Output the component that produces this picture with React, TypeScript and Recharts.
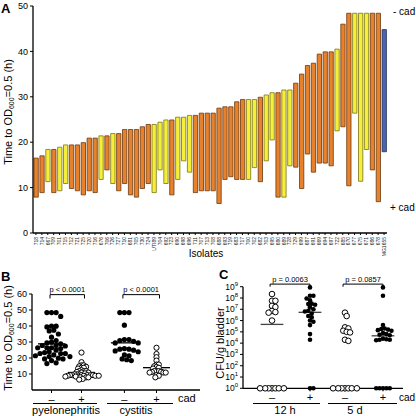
import React from 'react';
import {
  BarChart,
  Bar,
  Cell,
  XAxis,
  YAxis,
  ScatterChart,
  Scatter,
  ReferenceLine,
} from 'recharts';

const FONT = '"Liberation Sans", Arial, sans-serif';

// Panel A: growth time per isolate, with (+cad) and without (-cad) cadaverine
const isolates = [
  '718', '714', '667', '709', '701', '715', '712', '721', '725', '720',
  '716', '676', '706', '726', '727', '710', '681', '705', '730', '724',
  'UTI89', '704', '692', '723', '690', '698', '696', '711', '707', '713',
  '708', '688', '693', '719', '683', '717', '700', '702', '682', '703',
  '695', '680', '689', '728', '729', '699', '687', '691', '669', '694',
  '697', '722', '685', '670', '677', '675', '671', '686', '678', 'MG1655',
];
// P = pyelonephritis, C = cystitis, K = K-12 lab strain
const source = [
  'P', 'P', 'C', 'P', 'C', 'C', 'P', 'P', 'P', 'P',
  'P', 'C', 'P', 'C', 'P', 'P', 'P', 'P', 'P', 'P',
  'C', 'C', 'C', 'P', 'C', 'C', 'C', 'P', 'P', 'P',
  'P', 'P', 'P', 'P', 'P', 'P', 'C', 'C', 'P', 'C',
  'C', 'P', 'C', 'C', 'P', 'P', 'P', 'P', 'P', 'P',
  'P', 'C', 'P', 'P', 'C', 'C', 'C', 'P', 'P', 'K',
];
const hoursNoCad = [
  16.5, 17.0, 18.4, 18.4, 18.9, 19.4, 19.4, 19.4, 19.9, 20.9,
  20.9, 21.4, 21.4, 21.9, 21.9, 22.8, 22.8, 22.8, 23.4, 23.9,
  23.9, 24.4, 24.9, 24.9, 25.5, 25.5, 25.9, 25.9, 26.4, 26.4,
  26.4, 27.5, 27.8, 27.8, 28.9, 29.4, 29.4, 29.4, 29.9, 30.4,
  30.9, 30.9, 31.5, 31.5, 33.0, 35.0, 36.9, 37.4, 39.4, 39.9,
  39.9, 40.5, 46.0, 48.4, 48.4, 48.4, 48.4, 48.4, 48.4, 44.8,
];
const hoursCad = [
  7.9, 8.9, 11.3, 8.9, 9.3, 10.9, 9.8, 9.3, 8.4, 9.3,
  8.9, 11.8, 13.9, 10.9, 9.3, 10.9, 8.4, 7.9, 9.8, 10.9,
  8.9, 13.9, 10.9, 8.4, 11.8, 15.9, 13.4, 8.9, 9.3, 9.3,
  9.3, 6.5, 11.8, 12.4, 11.8, 11.8, 11.8, 14.4, 11.3, 15.9,
  20.5, 7.9, 7.9, 14.8, 14.5, 9.8, 17.4, 13.4, 15.4, 15.4,
  14.8, 22.5, 23.4, 10.4, 26.4, 11.4, 18.4, 13.9, 6.9, 17.9,
];
const hourTicks = [0, 10, 20, 30, 40, 50];

const SOURCE_FILL: Record<string, string> = { P: '#E8812C', C: '#F5EF3C', K: '#4A66AC' };
const SOURCE_STROKE: Record<string, string> = { P: '#6B3A10', C: '#7A7418', K: '#1E2C5A' };

// Panel B: same data grouped by source
const bGroupX = [1, 2, 3.43, 4.5];
const bTickLabels = ['–', '+', '–', '+'];
const bTicksY = [10, 20, 30, 40, 50, 60];
const bPValues = ['p < 0.0001', 'p < 0.0001'];

// Panel C: log10 CFU/g bladder
const c12hNoCad = [8.35, 7.75, 7.75, 7.3, 7.2, 6.85, 6.75, 6.7, 6.0, 0, 0, 0, 0, 0, 0, 0];
const c12hCad = [8.94, 8.2, 8.2, 7.95, 7.8, 7.5, 7.46, 7.4, 7.17, 7.0, 6.87, 6.8, 6.63, 6.4, 6.28, 6.0, 5.9, 5.6, 4.8, 4.3, 0, 0];
const c5dNoCad = [6.7, 6.4, 5.4, 5.3, 5.1, 5.0, 4.95, 4.3, 4.2, 0, 0, 0, 0, 0, 0, 0];
const c5dCad = [8.94, 8.2, 5.6, 5.3, 5.25, 5.2, 5.15, 5.1, 4.9, 4.8, 4.75, 4.7, 4.4, 4.35, 4.3, 4.3, 4.25, 0, 0, 0, 0, 0];
const cGroupX = [1, 2, 2.92, 3.92];
const cTickLabels = ['–', '+', '–', '+'];
const cLines = [5.66, 6.73, 0, 4.65];
const cDecades = [0, 1, 2, 3, 4, 5, 6, 7, 8, 9];
const cPValues = ['p = 0.0063', 'p = 0.0857'];

// simple beeswarm: pushes points sideways (in pixels) until they stop overlapping
function swarm(values: number[], cx: number, pxX: number, pxY: number, minDist: number) {
  const placed: { off: number; py: number }[] = [];
  const step = minDist / 2;
  const sorted = [...values].sort((a, b) => b - a);
  return sorted.map((v) => {
    const py = v * pxY;
    let off = 0;
    for (let k = 0; k < 80; k++) {
      const cands = k === 0 ? [0] : [k * step, -k * step];
      const ok = cands.find((c) =>
        placed.every((p) => (p.off - c) ** 2 + (p.py - py) ** 2 >= minDist * minDist)
      );
      if (ok !== undefined) {
        off = ok;
        break;
      }
    }
    placed.push({ off, py });
    return { x: cx + off / pxX, y: v };
  });
}

const mean = (a: number[]) => a.reduce((s, v) => s + v, 0) / a.length;

function IsolateTick({ x, y, payload }: any) {
  return (
    <text
      x={x}
      y={y}
      transform={`rotate(-90 ${x} ${y})`}
      textAnchor="end"
      dy={1.8}
      fontSize={5}
      fill="#222"
    >
      {payload.value}
    </text>
  );
}

function DecadeTick({ x, y, payload }: any) {
  return (
    <text x={x} y={y} dy={3} textAnchor="end" fontSize={8.5} fill="#000">
      10<tspan dy={-4} fontSize={6}>{payload.value}</tspan>
    </text>
  );
}

const filledDot = (r: number) => (p: any) => <circle cx={p.cx} cy={p.cy} r={r} fill="#000" />;
const openDot = (r: number) => (p: any) => (
  <circle cx={p.cx} cy={p.cy} r={r} fill="#fff" stroke="#000" strokeWidth={1} />
);

const axisStyle = { stroke: '#000', strokeWidth: 1.3 };

export default function App() {
  const barData = isolates.map((name, i) => ({
    name,
    range: [hoursCad[i], hoursNoCad[i]],
    src: source[i],
  }));

  // panel B groups
  const pick = (arr: number[], s: string) => arr.filter((_, i) => source[i] === s);
  const bGroups = [
    pick(hoursNoCad, 'P'),
    pick(hoursCad, 'P'),
    pick(hoursNoCad, 'C'),
    pick(hoursCad, 'C'),
  ];
  const bPts = bGroups.map((g, i) => swarm(g, bGroupX[i], 30, 1.595, i % 2 === 0 ? 4.6 : 2.3));
  const bMeans = bGroups.map(mean);

  const cGroups = [c12hNoCad, c12hCad, c5dNoCad, c5dCad];
  const cPts = cGroups.map((g, i) => swarm(g, cGroupX[i], 38, 11.29, 3.4));

  return (
    <div
      style={{
        position: 'fixed',
        left: 0,
        top: 0,
        width: 416,
        height: 416,
        background: '#fff',
        fontFamily: FONT,
        overflow: 'hidden',
      }}
    >
      {/* Panel A */}
      <div style={{ position: 'absolute', left: 0, top: 0 }}>
        <BarChart
          width={416}
          height={262}
          data={barData}
          margin={{ top: 6, right: 29, left: 0, bottom: 0 }}
          barSize={4.3}
        >
          <XAxis
            dataKey="name"
            interval={0}
            height={29}
            tick={IsolateTick}
            tickSize={2}
            axisLine={axisStyle}
            tickLine={{ stroke: '#000' }}
          />
          <YAxis
            type="number"
            domain={[0, 50]}
            ticks={hourTicks}
            interval={0}
            width={33}
            tickSize={3}
            tick={{ fontSize: 9, fill: '#000' }}
            axisLine={axisStyle}
            tickLine={{ stroke: '#000' }}
          />
          <Bar dataKey="range" isAnimationActive={false} strokeWidth={0.8}>
            {barData.map((d, i) => (
              <Cell key={i} fill={SOURCE_FILL[d.src]} stroke={SOURCE_STROKE[d.src]} />
            ))}
          </Bar>
        </BarChart>
      </div>

      {/* Panel B */}
      <div style={{ position: 'absolute', left: 0, top: 270 }}>
        <ScatterChart width={206} height={146} margin={{ top: 24, right: 6, left: 0, bottom: 0 }}>
          <XAxis
            type="number"
            dataKey="x"
            domain={[0.35, 5.95]}
            ticks={bGroupX}
            interval={0}
            height={26}
            tickSize={3}
            tickFormatter={(v: number) => bTickLabels[bGroupX.indexOf(v)]}
            tick={{ fontSize: 11, fill: '#000' }}
            axisLine={axisStyle}
            tickLine={{ stroke: '#000' }}
          />
          <YAxis
            type="number"
            dataKey="y"
            domain={[0, 60]}
            ticks={bTicksY}
            interval={0}
            width={32}
            tickSize={3}
            tick={{ fontSize: 9, fill: '#000' }}
            axisLine={axisStyle}
            tickLine={{ stroke: '#000' }}
          />
          {bPts.map((pts, i) => (
            <Scatter
              key={i}
              data={pts}
              isAnimationActive={false}
              shape={i % 2 === 0 ? filledDot(2.6) : openDot(2.6)}
            />
          ))}
          {bMeans.map((m, i) => (
            <ReferenceLine
              key={'m' + i}
              segment={[{ x: bGroupX[i] - 0.45, y: m }, { x: bGroupX[i] + 0.45, y: m }]}
              stroke="#000"
              strokeWidth={1.3}
              ifOverflow="visible"
            />
          ))}
          {bPValues.map((p, k) => {
            const a = bGroupX[2 * k] - 0.05;
            const b = bGroupX[2 * k + 1] + 0.1;
            return (
              <React.Fragment key={'p' + k}>
                <ReferenceLine
                  segment={[{ x: a, y: 59.6 }, { x: b, y: 59.6 }]}
                  stroke="#000"
                  ifOverflow="visible"
                  label={{ value: p, position: 'top', fontSize: 7.5, fill: '#000', offset: 3 }}
                />
                <ReferenceLine segment={[{ x: a, y: 59.6 }, { x: a, y: 57.2 }]} stroke="#000" ifOverflow="visible" />
                <ReferenceLine segment={[{ x: b, y: 59.6 }, { x: b, y: 57.2 }]} stroke="#000" ifOverflow="visible" />
              </React.Fragment>
            );
          })}
        </ScatterChart>
      </div>

      {/* Panel C */}
      <div style={{ position: 'absolute', left: 210, top: 270 }}>
        <ScatterChart width={206} height={146} margin={{ top: 16.7, right: 13, left: 0, bottom: 0 }}>
          <XAxis
            type="number"
            dataKey="x"
            domain={[0.237, 4.447]}
            ticks={cGroupX}
            interval={0}
            height={27.7}
            tickSize={3}
            tickFormatter={(v: number) => cTickLabels[cGroupX.indexOf(v)]}
            tick={{ fontSize: 11, fill: '#000' }}
            axisLine={axisStyle}
            tickLine={{ stroke: '#000' }}
          />
          <YAxis
            type="number"
            dataKey="y"
            domain={[0, 9]}
            ticks={cDecades}
            interval={0}
            width={33}
            tickSize={3}
            tick={DecadeTick}
            axisLine={axisStyle}
            tickLine={{ stroke: '#000' }}
          />
          {cLines.map((m, i) => (
            <ReferenceLine
              key={'m' + i}
              segment={[{ x: cGroupX[i] - 0.3, y: m }, { x: cGroupX[i] + 0.3, y: m }]}
              stroke="#444"
              strokeWidth={1.3}
              ifOverflow="visible"
            />
          ))}
          {cPts.map((pts, i) => (
            <Scatter
              key={i}
              data={pts}
              isAnimationActive={false}
              shape={i % 2 === 0 ? openDot(2.8) : filledDot(2.3)}
            />
          ))}
          {cPValues.map((p, k) => {
            const a = cGroupX[2 * k] - 0.05;
            const b = cGroupX[2 * k + 1];
            return (
              <React.Fragment key={'p' + k}>
                <ReferenceLine
                  segment={[{ x: a, y: 9.23 }, { x: b, y: 9.23 }]}
                  stroke="#000"
                  ifOverflow="visible"
                  label={{ value: p, position: 'top', fontSize: 7.5, fill: '#000', offset: 2 }}
                />
                <ReferenceLine segment={[{ x: a, y: 9.23 }, { x: a, y: 9.0 }]} stroke="#000" ifOverflow="visible" />
                <ReferenceLine segment={[{ x: b, y: 9.23 }, { x: b, y: 9.0 }]} stroke="#000" ifOverflow="visible" />
              </React.Fragment>
            );
          })}
        </ScatterChart>
      </div>

      {/* titles, axis labels, group labels */}
      <svg
        width={416}
        height={416}
        style={{ position: 'absolute', left: 0, top: 0, pointerEvents: 'none' }}
        fontFamily={FONT}
      >
        <text x={1} y={13} fontSize={13} fontWeight="bold">A</text>
        <text x={1} y={281} fontSize={13} fontWeight="bold">B</text>
        <text x={219} y={279} fontSize={13} fontWeight="bold">C</text>

        <text x={12} y={112} transform="rotate(-90 12 112)" textAnchor="middle" fontSize={11}>
          Time to OD<tspan fontSize={7} dy={2}>600</tspan>
          <tspan dy={-2}>=0.5 (h)</tspan>
        </text>
        <text x={12} y={338} transform="rotate(-90 12 338)" textAnchor="middle" fontSize={11}>
          Time to OD<tspan fontSize={7} dy={2}>600</tspan>
          <tspan dy={-2}>=0.5 (h)</tspan>
        </text>
        <text x={224} y={343} transform="rotate(-90 224 343)" textAnchor="middle" fontSize={11}>
          CFU/g bladder
        </text>

        <text x={393} y={15} fontSize={10}>- cad</text>
        <text x={390} y={211} fontSize={10}>+ cad</text>
        <text x={206} y={257} textAnchor="middle" fontSize={10}>Isolates</text>

        <text x={178} y={402} fontSize={11}>cad</text>
        <line x1={33} x2={97} y1={403.5} y2={403.5} stroke="#000" strokeWidth={1.2} />
        <line x1={107} x2={173} y1={403.5} y2={403.5} stroke="#000" strokeWidth={1.2} />
        <text x={66} y={414} textAnchor="middle" fontSize={11}>pyelonephritis</text>
        <text x={136} y={414} textAnchor="middle" fontSize={11}>cystitis</text>

        <text x={399} y={401} fontSize={10}>cad</text>
        <line x1={253} x2={320} y1={403.5} y2={403.5} stroke="#000" strokeWidth={1.2} />
        <line x1={328} x2={397} y1={403.5} y2={403.5} stroke="#000" strokeWidth={1.2} />
        <text x={285} y={414} textAnchor="middle" fontSize={11}>12 h</text>
        <text x={355} y={414} textAnchor="middle" fontSize={11}>5 d</text>
      </svg>
    </div>
  );
}
